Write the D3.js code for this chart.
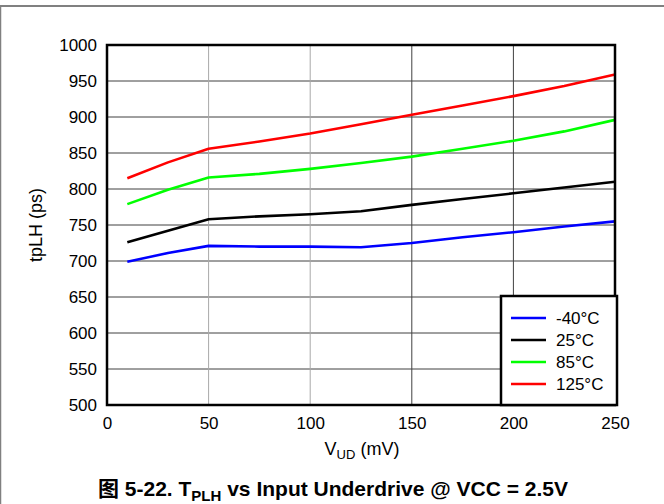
<!DOCTYPE html>
<html><head><meta charset="utf-8">
<script src="https://cdn.jsdelivr.net/npm/d3@7"></script>
<style>body{margin:0;background:#fff}svg{display:block}</style>
</head><body>
<script>
const xValues = [10, 30, 50, 75, 100, 125, 150, 175, 200, 225, 250];
const seriesNames = ["-40°C", "25°C", "85°C", "125°C"];
const seriesColors = ["#0000ff", "#000000", "#00ff00", "#ff0000"];
const minus40 = [699, 711, 721, 720, 720, 719, 725, 733, 740, 748, 755];
const plus25 = [726, 742, 758, 762, 765, 769, 778, 786, 794, 802, 810];
const plus85 = [779, 799, 816, 821, 828, 836, 845, 856, 867, 880, 896];
const plus125 = [815, 837, 856, 866, 877, 890, 903, 916, 929, 943, 959];
const xTicks = [0, 50, 100, 150, 200, 250];
const yTicks = [500, 550, 600, 650, 700, 750, 800, 850, 900, 950, 1000];
const seriesValues = [minus40, plus25, plus85, plus125];

const W = 664, H = 504;
const L = 107, R = 615, T = 45, B = 405;
const svg = d3.select("body").append("svg").attr("width", W).attr("height", H);
const font = "'Liberation Sans', Arial, sans-serif";

// page border lines
svg.append("line").attr("x1", 0).attr("x2", W).attr("y1", 6).attr("y2", 6).attr("stroke", "#808080").attr("stroke-width", 2);
svg.append("line").attr("x1", 0.5).attr("x2", 0.5).attr("y1", 6).attr("y2", H).attr("stroke", "#808080").attr("stroke-width", 1.5);

const x = d3.scaleLinear().domain([0, 250]).range([L, R]);
const y = d3.scaleLinear().domain([500, 1000]).range([B, T]);

// gridlines
const grid = svg.append("g");
grid.selectAll(".hg").data(yTicks.slice(1, -1)).enter().append("line")
  .attr("x1", L).attr("x2", R).attr("y1", d => y(d)).attr("y2", d => y(d))
  .attr("stroke", "#404040").attr("stroke-width", 1);
grid.selectAll(".vg").data(xTicks.slice(1, -1)).enter().append("line")
  .attr("y1", T).attr("y2", B).attr("x1", d => x(d)).attr("x2", d => x(d))
  .attr("stroke", d => d <= 100 ? "#a8a8a8" : "#404040").attr("stroke-width", 1);

// axes labels via d3 axes
const yAxis = svg.append("g").attr("transform", `translate(${L},0)`)
  .call(d3.axisLeft(y).tickValues(yTicks).tickFormat(d3.format("d")).tickSize(0).tickPadding(10));
yAxis.select(".domain").remove();
yAxis.selectAll("text").attr("font-family", font).attr("font-size", 17).attr("fill", "#000");
const xAxis = svg.append("g").attr("transform", `translate(0,${B})`)
  .call(d3.axisBottom(x).tickValues(xTicks).tickFormat(d3.format("d")).tickSize(0).tickPadding(12));
xAxis.select(".domain").remove();
xAxis.selectAll("text").attr("font-family", font).attr("font-size", 17).attr("fill", "#000");

// lines
const line = d3.line().x((d, i) => x(xValues[i])).y(d => y(d));
seriesValues.forEach((vals, k) => {
  svg.append("path").datum(vals).attr("d", line).attr("fill", "none")
    .attr("stroke", seriesColors[k]).attr("stroke-width", 2.6).attr("stroke-linejoin", "round");
});

// frame
svg.append("rect").attr("x", L).attr("y", T).attr("width", R - L).attr("height", B - T)
  .attr("fill", "none").attr("stroke", "#000").attr("stroke-width", 2.5);

// legend
const lg = svg.append("g");
lg.append("rect").attr("x", 501).attr("y", 296).attr("width", 116).attr("height", 109)
  .attr("fill", "#fff").attr("stroke", "#000").attr("stroke-width", 2.5);
seriesNames.forEach((n, k) => {
  const yy = 318 + k * 22;
  lg.append("line").attr("x1", 511).attr("x2", 546).attr("y1", yy).attr("y2", yy)
    .attr("stroke", seriesColors[k]).attr("stroke-width", 2.6);
  lg.append("text").attr("x", 556).attr("y", yy + 6).text(n)
    .attr("font-family", font).attr("font-size", 17).attr("fill", "#000");
});

// axis titles
const xt = svg.append("text").attr("x", 362).attr("y", 455).attr("text-anchor", "middle")
  .attr("font-family", font).attr("font-size", 18).attr("fill", "#000");
xt.append("tspan").text("V");
xt.append("tspan").text("UD").attr("font-size", 13).attr("dy", 4);
xt.append("tspan").text(" (mV)").attr("dy", -4);

svg.append("text").attr("transform", `translate(42,225) rotate(-90)`).attr("text-anchor", "middle")
  .attr("font-family", font).attr("font-size", 18).attr("fill", "#000").text("tpLH (ps)");

// caption
const cap = svg.append("text").attr("x", 333).attr("y", 496).attr("text-anchor", "middle")
  .attr("font-family", "'Liberation Sans', Arial, 'Noto Sans CJK SC', sans-serif").attr("font-size", 21)
  .attr("font-weight", "bold").attr("fill", "#000");
cap.append("tspan").text("图 5-22. T");
cap.append("tspan").text("PLH").attr("font-size", 15).attr("dy", 5);
cap.append("tspan").text(" vs Input Underdrive @ VCC = 2.5V").attr("dy", -5);
</script>
</body></html>
